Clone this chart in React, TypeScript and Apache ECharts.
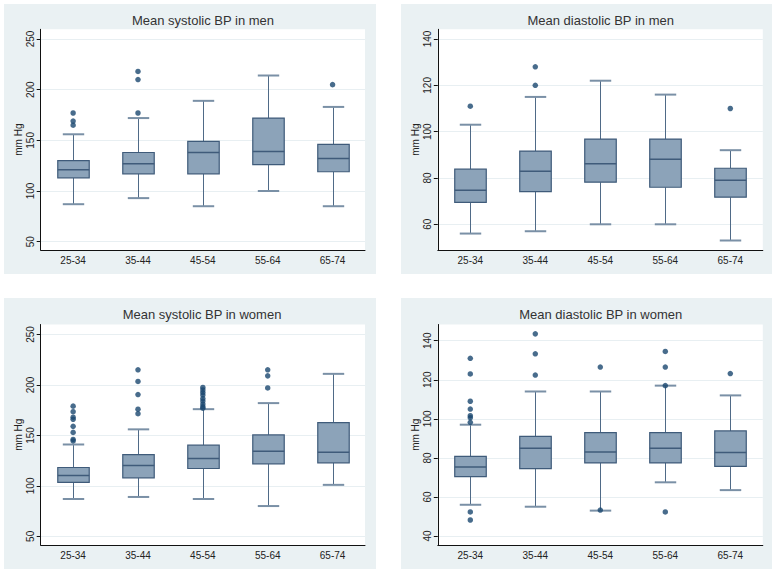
import React, { useEffect, useRef } from "react";
import * as echarts from "echarts";

const categories = ["25-34", "35-44", "45-54", "55-64", "65-74"];

const titles = [
  "Mean systolic BP in men",
  "Mean diastolic BP in men",
  "Mean systolic BP in women",
  "Mean diastolic BP in women",
];

const systolicTicks = [50, 100, 150, 200, 250];
const diastolicMenTicks = [60, 80, 100, 120, 140];
const diastolicWomenTicks = [40, 60, 80, 100, 120, 140];

// [lower whisker, Q1, median, Q3, upper whisker] per age group
const sysMenBoxes = [
  [87, 113, 121, 130, 156],
  [93, 117, 127, 138, 172],
  [85, 117, 138, 149, 189],
  [100, 126, 139, 172, 214],
  [85, 119, 132, 146, 183],
];
const sysMenOutliers = [
  [0, 177], [0, 169], [0, 165],
  [1, 177], [1, 210], [1, 218],
  [4, 205],
];

const diaMenBoxes = [
  [56, 69.5, 74.7, 83.8, 103],
  [57, 74.1, 82.9, 91.6, 115],
  [60, 78.2, 86.1, 96.8, 122],
  [60, 76, 88.1, 96.8, 116],
  [53, 71.7, 79, 84.2, 92],
];
const diaMenOutliers = [
  [0, 111],
  [1, 120], [1, 128],
  [4, 110],
];

const sysWomenBoxes = [
  [87, 103.4, 110.3, 118.2, 141],
  [89, 108, 120.2, 131, 156],
  [87, 117.2, 127.1, 140.3, 176],
  [80, 121.8, 134.4, 150.5, 182],
  [101, 122.8, 133.4, 162.7, 211],
];
const sysWomenOutliers = [
  [0, 179], [0, 173.5], [0, 168], [0, 166], [0, 159], [0, 153], [0, 146], [0, 144.5],
  [1, 215], [1, 203.5], [1, 190.5], [1, 176], [1, 171.5],
  [2, 197.5], [2, 195], [2, 192.5], [2, 190], [2, 186.5], [2, 184], [2, 181], [2, 178.5], [2, 177],
  [3, 215], [3, 209], [3, 197],
];

const diaWomenBoxes = [
  [56, 70.4, 75.3, 80.8, 97],
  [55, 74.5, 84.9, 91, 114],
  [53, 77.4, 83, 92.9, 114],
  [67.5, 77.4, 84.9, 92.9, 117],
  [63.5, 75.7, 82.8, 93.8, 112],
];
const diaWomenOutliers = [
  [0, 131], [0, 123], [0, 109], [0, 105], [0, 101.6], [0, 100.6], [0, 98.2], [0, 52.3], [0, 48.2],
  [1, 143.5], [1, 133.3], [1, 122.4],
  [2, 126.5], [2, 53.3],
  [3, 134.5], [3, 126.5], [3, 117], [3, 52.3],
  [4, 123.2],
];

const panels = [
  { boxes: sysMenBoxes, outliers: sysMenOutliers, ticks: systolicTicks, min: 41.8, max: 259.6 },
  { boxes: diaMenBoxes, outliers: diaMenOutliers, ticks: diastolicMenTicks, min: 48.9, max: 144.2 },
  { boxes: sysWomenBoxes, outliers: sysWomenOutliers, ticks: systolicTicks, min: 41.4, max: 259.9 },
  { boxes: diaWomenBoxes, outliers: diaWomenOutliers, ticks: diastolicWomenTicks, min: 35.4, max: 148.3 },
];

// layout (pixels)
const panelRects = [
  { x: 4, y: 4, w: 372, h: 270 },
  { x: 401, y: 4, w: 371, h: 270 },
  { x: 4, y: 298, w: 372, h: 271 },
  { x: 401, y: 298, w: 371, h: 271 },
];
const gridRects = [
  { left: 40.7, top: 29.3, width: 324.3, height: 220.7 },
  { left: 437.8, top: 29.3, width: 325, height: 220.7 },
  { left: 40.7, top: 324.5, width: 324.3, height: 220.5 },
  { left: 437.8, top: 324.5, width: 325, height: 220.5 },
];
const titlePos = [
  { x: 203, y: 13.5 },
  { x: 600.7, y: 13.5 },
  { x: 202, y: 308 },
  { x: 600.7, y: 308 },
];

const FONT = "Liberation Sans, Arial, sans-serif";

export default function App() {
  const ref = useRef<HTMLDivElement>(null);
  useEffect(() => {
    if (!ref.current) return;
    const chart = echarts.init(ref.current, null, { renderer: "svg" });

    const renderBox = (params: any, api: any) => {
      const idx = api.value(0);
      const lo = api.coord([idx, api.value(1)]);
      const q1 = api.coord([idx, api.value(2)]);
      const med = api.coord([idx, api.value(3)]);
      const q3 = api.coord([idx, api.value(4)]);
      const hi = api.coord([idx, api.value(5)]);
      const band = api.size([1, 0])[0];
      const bw = band * 0.485;
      const cw = band * 0.33;
      const x = Math.round(lo[0]) + 0.5;
      const whisker = { stroke: "#4f6a87", lineWidth: 1 };
      const cap = { stroke: "#7a90a6", lineWidth: 2 };
      return {
        type: "group",
        children: [
          { type: "line", shape: { x1: x, y1: hi[1], x2: x, y2: q3[1] }, style: whisker },
          { type: "line", shape: { x1: x, y1: q1[1], x2: x, y2: lo[1] }, style: whisker },
          { type: "line", shape: { x1: x - cw / 2, y1: hi[1], x2: x + cw / 2, y2: hi[1] }, style: cap },
          { type: "line", shape: { x1: x - cw / 2, y1: lo[1], x2: x + cw / 2, y2: lo[1] }, style: cap },
          {
            type: "rect",
            shape: { x: x - bw / 2, y: q3[1], width: bw, height: q1[1] - q3[1] },
            style: { fill: "#8ca3b9", stroke: "#3f5b7a", lineWidth: 1.2 },
          },
          {
            type: "line",
            shape: { x1: x - bw / 2, y1: med[1], x2: x + bw / 2, y2: med[1] },
            style: { stroke: "#3f5b7a", lineWidth: 1.5 },
          },
        ],
      };
    };

    const series: any[] = [];
    panels.forEach((p, i) => {
      series.push({
        type: "custom",
        xAxisIndex: i,
        yAxisIndex: i,
        renderItem: renderBox,
        encode: { x: 0, y: [1, 2, 3, 4, 5] },
        data: p.boxes.map((b, k) => [k, ...b]),
        z: 2,
      });
      series.push({
        type: "scatter",
        xAxisIndex: i,
        yAxisIndex: i,
        symbol: "circle",
        symbolSize: 5.5,
        itemStyle: { color: "#1a476f" },
        data: p.outliers.map((o) => [o[0], o[1]]),
        z: 3,
      });
    });

    const option: any = {
      animation: false,
      backgroundColor: "#ffffff",
      title: titles.map((t, i) => ({
        text: t,
        left: titlePos[i].x,
        top: titlePos[i].y,
        textAlign: "center",
        padding: 0,
        textStyle: { fontSize: 13, fontWeight: "normal", color: "#333333", fontFamily: FONT },
      })),
      graphic: panelRects.map((r) => ({
        type: "rect",
        z: -10,
        shape: { x: r.x, y: r.y, width: r.w, height: r.h },
        style: { fill: "#eaf1f3" },
        silent: true,
      })),
      grid: gridRects.map((g) => ({
        ...g,
        show: true,
        backgroundColor: "#ffffff",
        borderWidth: 0,
        containLabel: false,
      })),
      xAxis: panels.map((_, i) => ({
        type: "category",
        gridIndex: i,
        data: categories,
        boundaryGap: true,
        axisLine: { show: true, lineStyle: { color: "#111111", width: 1 } },
        axisTick: { show: false },
        axisLabel: { fontSize: 10, color: "#222222", margin: 5, fontFamily: FONT },
        splitLine: { show: false },
      })),
      yAxis: panels.map((p, i) => ({
        type: "value",
        gridIndex: i,
        min: p.min,
        max: p.max,
        name: "mm Hg",
        nameLocation: "middle",
        nameGap: 17,
        nameRotate: 90,
        nameTextStyle: { fontSize: 10, color: "#222222", fontFamily: FONT },
        axisLine: { show: true, lineStyle: { color: "#111111", width: 1 } },
        axisTick: { show: true, length: 4, customValues: p.ticks, lineStyle: { color: "#111111" } },
        axisLabel: {
          rotate: 90,
          fontSize: 10,
          color: "#222222",
          margin: 5,
          customValues: p.ticks,
          fontFamily: FONT,
        },
        splitLine: { show: true, lineStyle: { color: "#e8eff2", width: 1 } },
      })),
      series,
    };
    chart.setOption(option);
    return () => chart.dispose();
  }, []);
  return (
    <div
      ref={ref}
      style={{ position: "fixed", left: 0, top: 0, width: 777, height: 573, background: "#fff" }}
    />
  );
}
